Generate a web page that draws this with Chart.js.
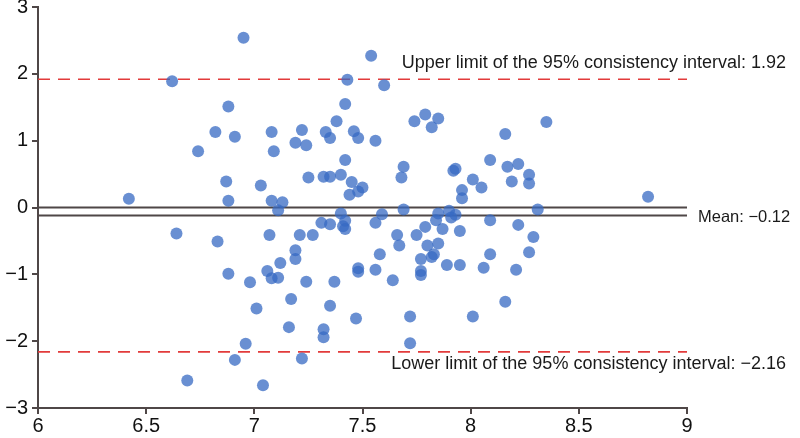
<!DOCTYPE html>
<html>
<head>
<meta charset="utf-8">
<script src="https://cdn.jsdelivr.net/npm/chart.js@4.4.1/dist/chart.umd.min.js"></script>
<style>
  html, body { margin: 0; padding: 0; background: #fff; }
  #wrap { width: 800px; height: 438px; }
</style>
</head>
<body>
<div id="wrap"><canvas id="chart"></canvas></div>
<script>
// Bland-Altman: mean of the two methods (x) vs difference (y)
var meanValues = [
  6.42, 6.62, 6.95, 6.88, 6.82, 6.91, 6.74, 6.87, 6.88, 7.03,
  6.64, 6.83, 6.88, 6.98, 7.01, 6.96, 6.91, 6.69, 7.04, 7.54,
  7.43, 7.60, 7.42, 7.38, 7.74, 7.79, 7.85, 7.82, 7.08, 7.22,
  7.19, 7.24, 7.33, 7.35, 7.46, 7.48, 7.56, 7.09, 7.42, 8.09,
  7.69, 7.68, 7.25, 7.32, 7.35, 7.40, 7.45, 7.50, 7.48, 7.44,
  7.08, 7.13, 7.11, 7.92, 7.93, 8.01, 8.05, 7.96, 7.96, 8.35,
  8.16, 8.17, 8.22, 8.27, 8.27, 8.19, 8.82, 8.31, 8.09, 8.22,
  8.29, 8.09, 8.27, 8.06, 8.21, 8.16, 7.07, 7.21, 7.27, 7.31,
  7.35, 7.40, 7.42, 7.41, 7.42, 7.19, 7.19, 7.12, 7.06, 7.08,
  7.11, 7.24, 7.37, 7.17, 7.35, 7.48, 7.48, 7.69, 7.59, 7.56,
  7.85, 7.90, 7.91, 7.93, 7.84, 7.79, 7.87, 7.95, 7.75, 7.66,
  7.67, 7.80, 7.85, 7.83, 7.82, 7.77, 7.58, 7.89, 7.95, 7.77,
  7.77, 7.56, 7.64, 7.72, 8.01, 7.47, 7.32, 7.32, 7.16, 7.22,
  7.72
];
var diffValues = [
  0.13, 1.89, 2.54, 1.51, 1.13, 1.06, 0.84, 0.39, 0.10, 0.33,
  -0.39, -0.51, -0.99, -1.12, -1.51, -2.04, -2.28, -2.59, -2.66, 2.27,
  1.91, 1.83, 1.55, 1.29, 1.29, 1.39, 1.33, 1.20, 1.13, 1.16,
  0.97, 0.93, 1.13, 1.04, 1.14, 1.04, 1.00, 0.84, 0.71, 0.71,
  0.61, 0.45, 0.45, 0.46, 0.46, 0.49, 0.38, 0.30, 0.24, 0.19,
  0.10, 0.08, -0.04, 0.55, 0.58, 0.42, 0.30, 0.26, 0.14, 1.28,
  1.10, 0.61, 0.65, 0.49, 0.36, 0.39, 0.16, -0.03, -0.19, -0.26,
  -0.44, -0.70, -0.67, -0.90, -0.93, -1.41, -0.41, -0.41, -0.41, -0.23,
  -0.25, -0.09, -0.20, -0.28, -0.32, -0.64, -0.77, -0.83, -0.95, -1.06,
  -1.05, -1.11, -1.11, -1.37, -1.47, -0.91, -0.96, -0.03, -0.10, -0.23,
  -0.09, -0.05, -0.15, -0.11, -0.19, -0.29, -0.32, -0.35, -0.41, -0.41,
  -0.57, -0.57, -0.54, -0.70, -0.74, -0.77, -0.70, -0.86, -0.86, -0.95,
  -1.01, -0.93, -1.09, -1.63, -1.63, -1.66, -1.82, -1.94, -1.79, -2.26,
  -2.03
];

var meanDiff = -0.12;
var upperLimit = 1.92;
var lowerLimit = -2.16;

var xTicks = [6, 6.5, 7, 7.5, 8, 8.5, 9];
var yTicks = [-3, -2, -1, 0, 1, 2, 3];

var upperLabel = 'Upper limit of the 95% consistency interval: 1.92';
var meanLabel = 'Mean: \u22120.12';
var lowerLabel = 'Lower limit of the 95% consistency interval: \u22122.16';

var points = meanValues.map(function(x, i) {
  return { x: x, y: diffValues[i] };
});

function hLine(y) {
  return [{ x: xTicks[0], y: y }, { x: xTicks[xTicks.length - 1], y: y }];
}

function minus(v) {
  return String(v).replace('-', '\u2212');
}

var axisColor = '#4f4747';
var limitColor = '#e23b3b';
var fontFamily = '"Liberation Sans", Arial, sans-serif';

var labelPlugin = {
  id: 'limitLabels',
  afterDatasetsDraw: function(chart) {
    var ctx = chart.ctx;
    var ys = chart.scales.y;
    var right = chart.chartArea.right;
    ctx.save();
    ctx.fillStyle = '#1a1a1a';
    ctx.textBaseline = 'middle';
    ctx.font = '18px ' + fontFamily;
    ctx.textAlign = 'right';
    ctx.fillText(upperLabel, 786, ys.getPixelForValue(upperLimit) - 16);
    ctx.fillText(lowerLabel, 786, ys.getPixelForValue(lowerLimit) + 12);
    // mean label sits just right of the plot area
    ctx.font = '16.5px ' + fontFamily;
    ctx.textAlign = 'left';
    ctx.fillText(meanLabel, right + 11, ys.getPixelForValue(meanDiff) + 2);
    ctx.restore();
  }
};

var ctx = document.getElementById('chart').getContext('2d');
var chart = new Chart(ctx, {
  type: 'scatter',
  data: {
    datasets: [{
      label: 'difference',
      data: points,
      backgroundColor: 'rgba(55, 105, 195, 0.75)',
      borderWidth: 0,
      pointRadius: 6,
      order: 1
    }, {
      type: 'line',
      data: hLine(0),
      borderColor: axisColor,
      borderWidth: 2,
      pointRadius: 0,
      order: 2
    }, {
      type: 'line',
      data: hLine(meanDiff),
      borderColor: axisColor,
      borderWidth: 2,
      pointRadius: 0,
      order: 2
    }, {
      type: 'line',
      data: hLine(upperLimit),
      borderColor: limitColor,
      borderWidth: 1.6,
      borderDash: [12, 8],
      pointRadius: 0,
      order: 2
    }, {
      type: 'line',
      data: hLine(lowerLimit),
      borderColor: limitColor,
      borderWidth: 1.6,
      borderDash: [12, 8],
      pointRadius: 0,
      order: 2
    }]
  },
  options: {
    responsive: true,
    maintainAspectRatio: false,
    animation: false,
    layout: { padding: { left: 0, top: 7, right: 113, bottom: 0 } },
    plugins: {
      legend: { display: false },
      tooltip: { enabled: false }
    },
    scales: {
      x: {
        type: 'linear',
        min: 6,
        max: 9,
        afterBuildTicks: function(scale) {
          scale.ticks = xTicks.map(function(v) { return { value: v }; });
        },
        afterFit: function(scale) {
          scale.height = 30;
          scale.paddingLeft = 0;
          scale.paddingRight = 0;
        },
        border: { color: axisColor, width: 2 },
        grid: { drawOnChartArea: false, color: axisColor, tickLength: 6, lineWidth: 2 },
        ticks: {
          color: '#111',
          padding: 0,
          maxRotation: 0,
          font: { size: 20, family: fontFamily },
          callback: function(v) { return minus(v); }
        }
      },
      y: {
        type: 'linear',
        min: -3,
        max: 3,
        afterBuildTicks: function(scale) {
          scale.ticks = yTicks.map(function(v) { return { value: v }; });
        },
        afterFit: function(scale) {
          scale.width = 38;
          scale.paddingTop = 0;
          scale.paddingBottom = 0;
        },
        border: { color: axisColor, width: 2 },
        grid: { drawOnChartArea: false, color: axisColor, tickLength: 6, lineWidth: 2 },
        ticks: {
          color: '#111',
          padding: 4,
          font: { size: 20, family: fontFamily },
          callback: function(v) { return minus(v); }
        }
      }
    }
  },
  plugins: [labelPlugin]
});
</script>
</body>
</html>
